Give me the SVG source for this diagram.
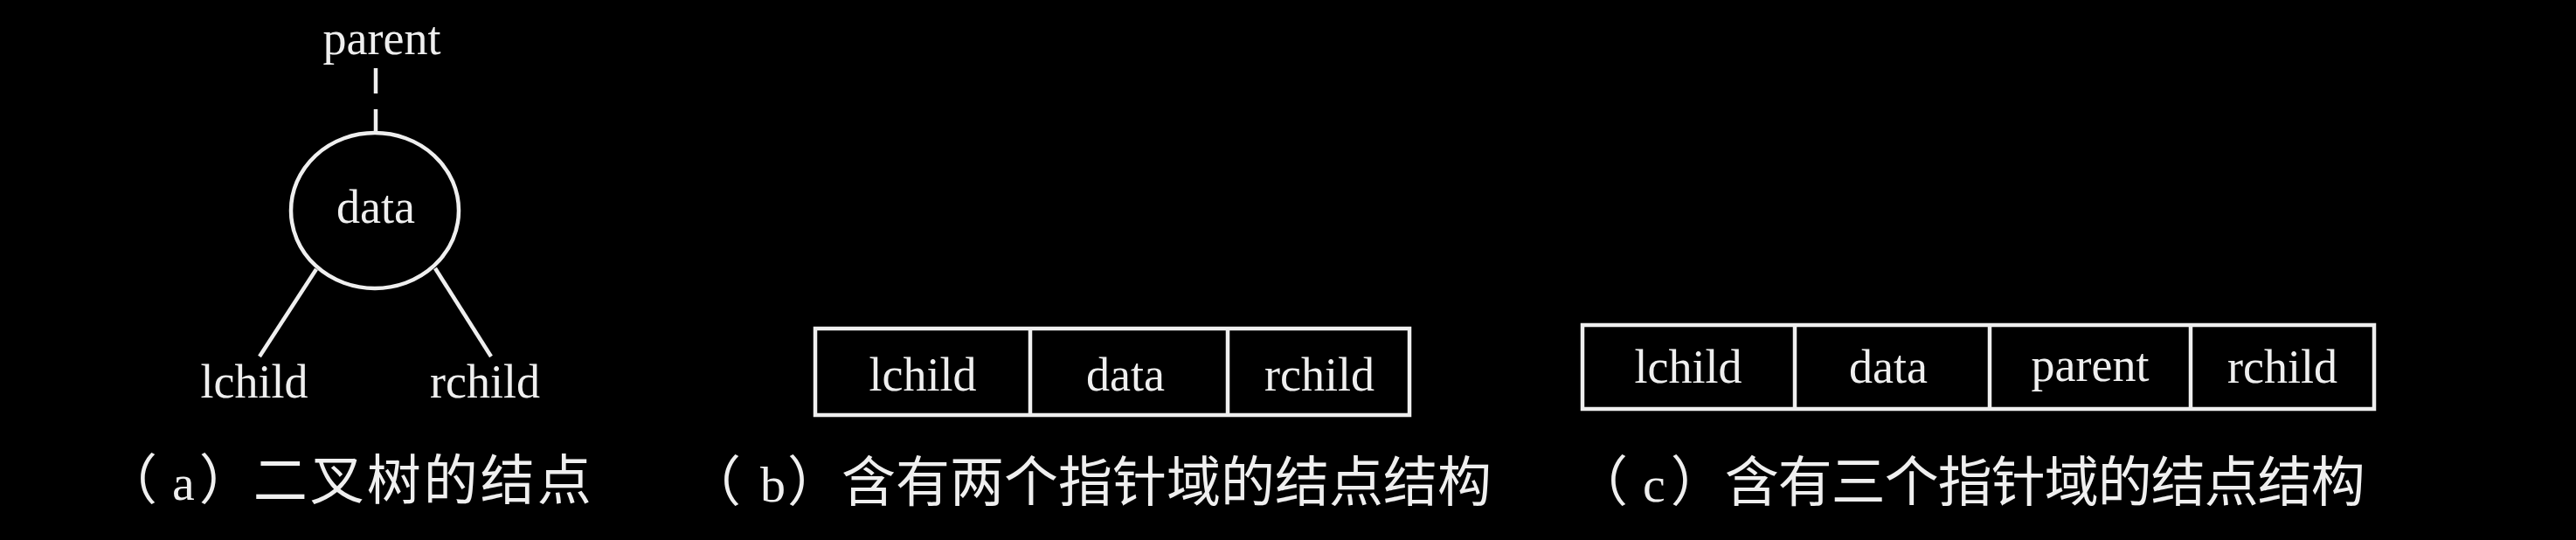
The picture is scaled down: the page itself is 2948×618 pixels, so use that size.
<svg xmlns="http://www.w3.org/2000/svg" width="2948" height="618" viewBox="0 0 2948 618">
  <style>
    .lbl { font-family: "Liberation Serif", "Times New Roman", serif; font-size: 54px; fill: #efefef; text-anchor: middle; }
    .shape { fill: none; stroke: #efefef; stroke-width: 4.5; }
    .cell { fill: #000; stroke: #efefef; stroke-width: 4.5; }
    .cap { font-family: "Noto Sans CJK SC", "Noto Sans", sans-serif; font-size: 62px; fill: #efefef; }
    .cjk-a { letter-spacing: 3px; }
    .cjk { letter-spacing: 0px; }
    .cjk-c { letter-spacing: -1px; }
    .lat { font-family: "Liberation Serif", serif; font-size: 58px; }
  </style>
  <rect x="0" y="0" width="2948" height="618" fill="#000"/>

  <!-- (a) binary tree node -->
  <g id="connectors">
    <line class="shape" x1="430" y1="78" x2="430" y2="107"/>
    <line class="shape" x1="430" y1="125" x2="430" y2="153"/>
    <line class="shape" x1="362" y1="308" x2="297" y2="408"/>
    <line class="shape" x1="498" y1="307" x2="562" y2="408"/>
  </g>
  <g id="tree-parent"><text class="lbl" x="437" y="62">parent</text></g>
  <g id="tree-data">
    <ellipse class="shape" cx="429" cy="241" rx="96" ry="89"/>
    <text class="lbl" x="430" y="255">data</text>
  </g>
  <g id="tree-lchild"><text class="lbl" x="291" y="455">lchild</text></g>
  <g id="tree-rchild"><text class="lbl" x="555" y="455">rchild</text></g>

  <!-- (b) two pointer fields -->
  <g id="node-b">
    <rect class="cell" x="933" y="376" width="680" height="99"/>
    <line class="shape" x1="1179" y1="376" x2="1179" y2="475"/>
    <line class="shape" x1="1405" y1="376" x2="1405" y2="475"/>
    <text class="lbl" x="1056" y="447">lchild</text>
    <text class="lbl" x="1288" y="447">data</text>
    <text class="lbl" x="1510" y="447">rchild</text>
  </g>

  <!-- (c) three pointer fields -->
  <g id="node-c">
    <rect class="cell" x="1811" y="372" width="906" height="96"/>
    <line class="shape" x1="2054" y1="372" x2="2054" y2="468"/>
    <line class="shape" x1="2277" y1="372" x2="2277" y2="468"/>
    <line class="shape" x1="2507" y1="372" x2="2507" y2="468"/>
    <text class="lbl" x="1932" y="438">lchild</text>
    <text class="lbl" x="2161" y="438">data</text>
    <text class="lbl" x="2392" y="436">parent</text>
    <text class="lbl" x="2612" y="438">rchild</text>
  </g>

  <!-- captions -->
  <g id="caption-a">
    <text class="cap" x="118" y="572">（<tspan class="lat" dx="17">a</tspan><tspan dx="5">）</tspan><tspan class="cjk-a">二叉树的结点</tspan></text>
  </g>
  <g id="caption-b">
    <text class="cap" x="786" y="574">（<tspan class="lat" dx="22">b</tspan><tspan dx="2">）</tspan><tspan class="cjk">含有两个指针域的结点结构</tspan></text>
  </g>
  <g id="caption-c">
    <text class="cap" x="1801" y="574">（<tspan class="lat" dx="17">c</tspan><tspan dx="6">）</tspan><tspan class="cjk-c">含有三个指针域的结点结构</tspan></text>
  </g>
</svg>
